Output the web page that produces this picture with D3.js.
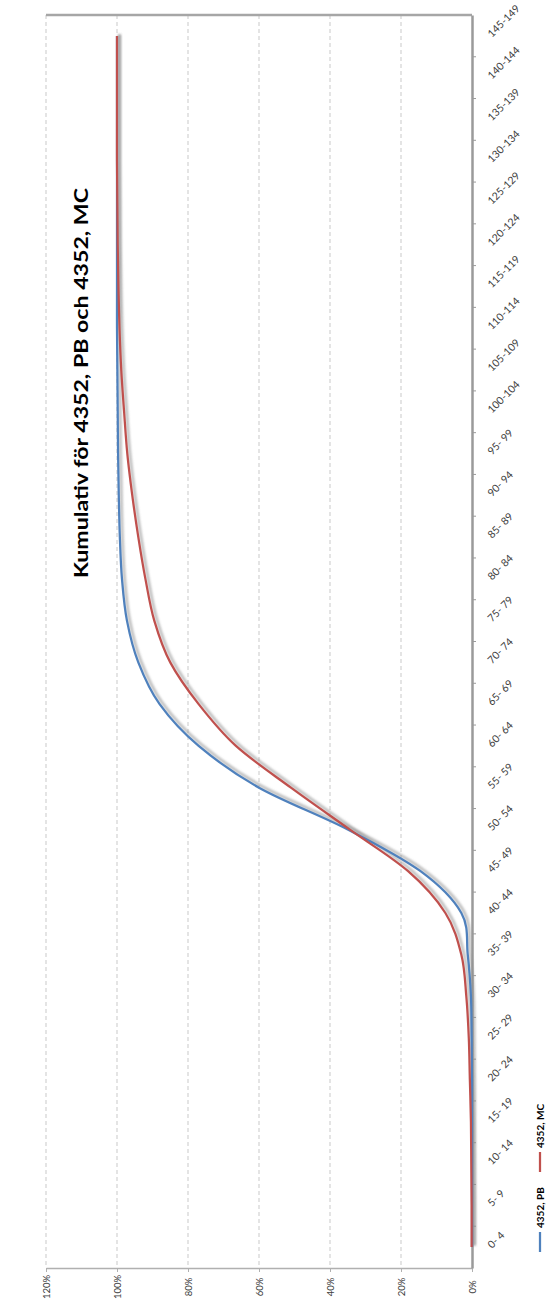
<!DOCTYPE html>
<html><head><meta charset="utf-8">
<script src="https://cdn.jsdelivr.net/npm/d3@7"></script>
<style>body{margin:0;background:#fff} text{font-family:Lato,"Open Sans",sans-serif}</style>
</head><body><svg id="c" width="548" height="1299"></svg>
<script>
const categories = ["0- 4","5- 9","10- 14","15- 19","20- 24","25- 29","30- 34","35- 39","40- 44","45- 49","50- 54","55- 59","60- 64","65- 69","70- 74","75- 79","80- 84","85- 89","90- 94","95- 99","100-104","105-109","110-114","115-119","120-124","125-129","130-134","135-139","140-144","145-149"];
const seriesNames = ["4352, PB","4352, MC"];
const pbValues = [0,0,0,0,0,0.001,0.003,0.012,0.03,0.145,0.35,0.60,0.77,0.88,0.94,0.972,0.986,0.992,0.995,0.997,0.998,0.999,1,1,1,1,1,1,1,1];
const mcValues = [0.001,0.001,0.002,0.003,0.006,0.009,0.016,0.03,0.075,0.18,0.345,0.51,0.665,0.77,0.85,0.895,0.92,0.94,0.957,0.971,0.98,0.988,0.993,0.996,0.998,0.999,1,1,1,1];
const valueTicks = [0,0.2,0.4,0.6,0.8,1.0,1.2];
const chartTitle = "Kumulativ för 4352, PB och 4352, MC";
const colors = ["#4F81BD","#C0504D"];

const svg = d3.select("#c");
const x = d3.scaleLinear().domain([0,1.2]).range([472,46]);
const y = d3.scaleBand().domain(categories).range([1268,15]).padding(0);
const yc = d => y(d) + y.bandwidth()/2;

const defs = svg.append("defs");
defs.append("filter").attr("id","sh").attr("x","-20%").attr("y","-20%").attr("width","140%").attr("height","140%")
  .append("feGaussianBlur").attr("stdDeviation",1.3);

// gridlines
svg.append("g").selectAll("line").data(valueTicks.filter(v=>v>0)).join("line")
  .attr("x1",d=>x(d)).attr("x2",d=>x(d)).attr("y1",15).attr("y2",1268)
  .attr("stroke","#c9c9c9").attr("stroke-width",1).attr("stroke-dasharray","4,3");

// value axis (bottom)
const xAxis = d3.axisBottom(x).tickValues(valueTicks).tickSize(4).tickSizeOuter(0).tickFormat(d3.format(".0%"));
const gx = svg.append("g").attr("transform","translate(0,1268)").call(xAxis);
gx.select(".domain").attr("stroke","#b0b0b0").attr("stroke-width",1.5);
gx.selectAll(".tick line").attr("stroke","#b0b0b0");
gx.selectAll(".tick text").attr("y",0).attr("dy","0.35em").attr("text-anchor","middle")
  .attr("transform","translate(0,19) rotate(-90)").attr("font-size","9.5px").attr("fill","#404040");

// top border
svg.append("line").attr("x1",46).attr("x2",472).attr("y1",15).attr("y2",15)
  .attr("stroke","#a6a6a6").attr("stroke-width",2.5);

// category axis (right)
const yAxis = d3.axisRight(y).tickSize(0).tickSizeOuter(0);
const gy = svg.append("g").attr("transform","translate(472,0)").call(yAxis);
gy.select(".domain").attr("stroke","#9a9a9a").attr("stroke-width",2.5);
gy.selectAll(".tick text").attr("x",0).attr("dy",0).attr("text-anchor","start")
  .attr("transform","translate(20,2) rotate(-45)").attr("font-size","10.5px").attr("fill","#404040");
// boundary ticks
gy.append("g").selectAll("line").data(categories.slice(1)).join("line")
  .attr("x1",0).attr("x2",4).attr("y1",d=>y(d)+y.bandwidth()).attr("y2",d=>y(d)+y.bandwidth())
  .attr("stroke","#9a9a9a").attr("stroke-width",1);

// lines
const series = [pbValues, mcValues];
const line = d3.line().x(d=>x(d.v)).y(d=>yc(d.c)).curve(d3.curveCatmullRom.alpha(0));
series.forEach((vals,i)=>{
  const pts = vals.map((v,j)=>({v, c:categories[j]}));
  svg.append("path").datum(pts).attr("d",line).attr("fill","none")
    .attr("stroke","#8c8c8c").attr("stroke-opacity",0.55).attr("stroke-width",3)
    .attr("filter","url(#sh)").attr("transform","translate(2.5,-1.5)");
});
series.forEach((vals,i)=>{
  const pts = vals.map((v,j)=>({v, c:categories[j]}));
  svg.append("path").datum(pts).attr("d",line).attr("fill","none")
    .attr("stroke",colors[i]).attr("stroke-width",2.25).attr("stroke-linejoin","round");
});

// title
svg.append("text").attr("transform","translate(82,383) rotate(-90)")
  .attr("text-anchor","middle").attr("dy","0.35em").attr("font-size","18px").attr("font-weight","bold")
  .attr("textLength",390).attr("lengthAdjust","spacingAndGlyphs")
  .attr("fill","#000").text(chartTitle);

// legend
const legendPos = [{y0:1252, name:seriesNames[0], c:colors[0]},{y0:1172, name:seriesNames[1], c:colors[1]}];
const lg = svg.append("g");
legendPos.forEach(l=>{
  lg.append("line").attr("x1",540).attr("x2",540).attr("y1",l.y0).attr("y2",l.y0-20)
    .attr("stroke",l.c).attr("stroke-width",2.25);
  lg.append("text").attr("transform",`translate(540,${l.y0-24}) rotate(-90)`)
    .attr("dy","0.35em").attr("font-size","10px").attr("font-weight","bold").attr("fill","#000").text(l.name);
});
</script></body></html>
